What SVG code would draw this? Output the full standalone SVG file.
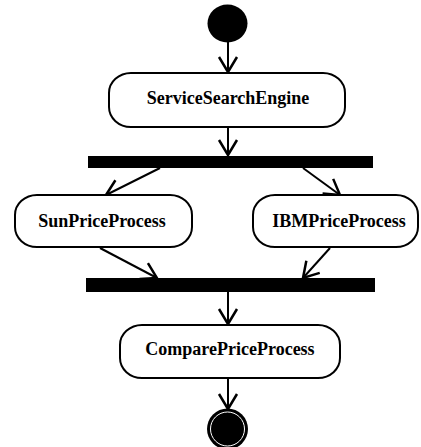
<svg xmlns="http://www.w3.org/2000/svg" width="421" height="447" viewBox="0 0 421 447">
<defs>
<style>
.box{fill:#fff;stroke:#000;stroke-width:2}
.lbl{font-family:"Liberation Serif","Times New Roman",serif;font-weight:bold;font-size:18px;fill:#000;text-anchor:middle}
.edge{stroke:#000;stroke-width:2;fill:none}
.bar{fill:#000}
</style>
<marker id="arr" markerUnits="userSpaceOnUse" markerWidth="22" markerHeight="22" refX="0" refY="0" viewBox="-18 -11 20 22" orient="auto" overflow="visible">
<path d="M-15,-9 L0,0 L-15,9" fill="none" stroke="#000" stroke-width="2.5"/>
</marker>
</defs>
<rect width="421" height="447" fill="#fff"/>
<g id="connectors">
<line class="edge" x1="228" y1="40" x2="228" y2="72" marker-end="url(#arr)"/>
<line class="edge" x1="228" y1="127" x2="228" y2="155" marker-end="url(#arr)"/>
<line class="edge" x1="160" y1="168" x2="106" y2="195" marker-end="url(#arr)"/>
<line class="edge" x1="303" y1="168" x2="340" y2="195" marker-end="url(#arr)"/>
<line class="edge" x1="100" y1="248" x2="157" y2="278" marker-end="url(#arr)"/>
<line class="edge" x1="330" y1="248" x2="303" y2="278" marker-end="url(#arr)"/>
<line class="edge" x1="228" y1="292" x2="228" y2="324" marker-end="url(#arr)"/>
<line class="edge" x1="228" y1="378" x2="228" y2="409" marker-end="url(#arr)"/>
</g>
<g id="start"><ellipse cx="227.5" cy="23.5" rx="20" ry="19" fill="#000"/></g>
<g id="ServiceSearchEngine">
<rect class="box" x="109" y="73" width="236" height="54" rx="22" ry="20"/>
<text class="lbl" x="228" y="104">ServiceSearchEngine</text>
</g>
<g id="fork"><rect class="bar" x="88" y="156" width="285" height="12"/></g>
<g id="SunPriceProcess">
<rect class="box" x="15" y="195" width="177" height="52" rx="22" ry="20"/>
<text class="lbl" x="102" y="227">SunPriceProcess</text>
</g>
<g id="IBMPriceProcess">
<rect class="box" x="253" y="195" width="165" height="52" rx="22" ry="20"/>
<text class="lbl" x="339" y="227">IBMPriceProcess</text>
</g>
<g id="join"><rect class="bar" x="86" y="278" width="289" height="14"/></g>
<g id="ComparePriceProcess">
<rect class="box" x="120" y="325" width="220" height="53" rx="22" ry="20"/>
<text class="lbl" x="230" y="355">ComparePriceProcess</text>
</g>
<g id="end">
<circle cx="227.5" cy="429" r="20.5" fill="#000"/>
<circle cx="227.5" cy="429" r="17" fill="none" stroke="#fff" stroke-width="1"/>
</g>
</svg>
